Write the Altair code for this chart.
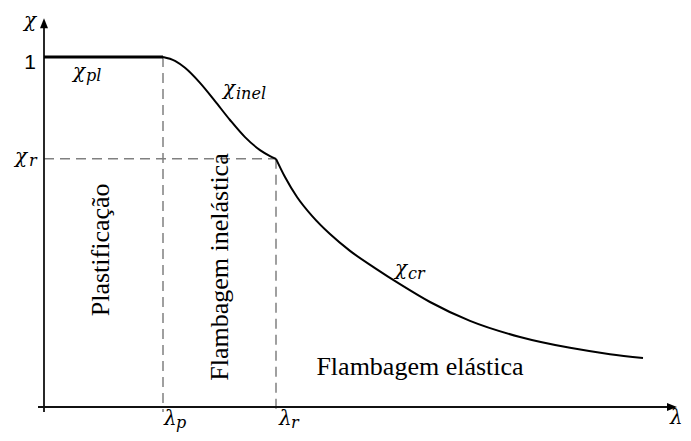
import altair as alt
import pandas as pd

# ---- curve data (lambda, chi) ----
lam_flat = [0.0, 1.19]
chi_flat = [1.0, 1.0]

lam_inel = [1.19, 1.31, 1.41, 1.56, 1.71, 1.86, 2.01, 2.16, 2.26, 2.32]
chi_inel = [1.0, 0.989, 0.969, 0.926, 0.874, 0.820, 0.771, 0.734, 0.717, 0.709]

lam_cr = [2.32, 2.41, 2.53, 2.68, 2.86, 3.06, 3.31, 3.56, 3.86, 4.26, 4.76, 5.26, 5.66, 5.99]
chi_cr = [0.709, 0.657, 0.600, 0.546, 0.494, 0.446, 0.397, 0.351, 0.300, 0.246, 0.200, 0.169, 0.151, 0.140]

lam_p = 1.19
lam_r = 2.32
chi_r = 0.709

# ---- labels ----
sym_text = ["χ", "χ", "χ", "χ", "χ", "λ", "λ", "λ"]
sym_lam = [-0.20, 0.29, 1.79, -0.29, 3.51, 1.20, 2.35, 6.26]
sym_chi = [1.0857, 0.94, 0.891, 0.697, 0.377, -0.0514, -0.0514, -0.0486]

sub_text = ["pl", "inel", "r", "cr", "p", "r"]
sub_lam = [0.42, 1.92, -0.15, 3.64, 1.32, 2.47]
sub_chi = [0.931, 0.88, 0.689, 0.366, -0.06, -0.06]

one_text = ["1"]
one_lam = [-0.08]
one_chi = [0.966]

region_text = ["Plastificação", "Flambagem inelástica", "Flambagem elástica"]
region_lam = [0.57, 1.76, 3.76]
region_chi = [0.449, 0.40, 0.114]
region_angle = [270, 270, 0]

# axis extents
x_axis_lam = [-0.06, 6.26]
y_axis_chi = [-0.0143, 1.09]
arrow_x_tip = 6.33
arrow_y_tip = 1.111

# ---- layout / scales ----
W, H = 675, 425
PX_PER_LAM = 100.0
PX_PER_CHI = 350.0
ORIGIN_X = 36.0   # plot-area pixel of lambda = 0
ORIGIN_Y = 399.0  # plot-area pixel of chi = 0 (from top)

xs = alt.Scale(domain=[-ORIGIN_X / PX_PER_LAM, (W - ORIGIN_X) / PX_PER_LAM], nice=False, zero=False)
ys = alt.Scale(domain=[(ORIGIN_Y - H) / PX_PER_CHI, ORIGIN_Y / PX_PER_CHI], nice=False, zero=False)


def X(f="lam"):
    return alt.X(f"{f}:Q", scale=xs, axis=None)


def Y(f="chi"):
    return alt.Y(f"{f}:Q", scale=ys, axis=None)


flat_df = pd.DataFrame({"lam": lam_flat, "chi": chi_flat})
inel_df = pd.DataFrame({"lam": lam_inel, "chi": chi_inel})
cr_df = pd.DataFrame({"lam": lam_cr, "chi": chi_cr})

dash_df = pd.DataFrame({
    "lam": [lam_p, lam_r, 0.0],
    "chi": [1.0, chi_r, chi_r],
    "lam2": [lam_p, lam_r, lam_r],
    "chi2": [y_axis_chi[0], y_axis_chi[0], chi_r],
})

axes_df = pd.DataFrame({
    "lam": [x_axis_lam[0], 0.0],
    "chi": [0.0, y_axis_chi[0]],
    "lam2": [x_axis_lam[1], 0.0],
    "chi2": [0.0, y_axis_chi[1]],
})

arrow_up_df = pd.DataFrame({"lam": [0.0], "chi": [arrow_y_tip]})
arrow_right_df = pd.DataFrame({"lam": [arrow_x_tip], "chi": [0.0]})

sym_df = pd.DataFrame({"t": sym_text, "lam": sym_lam, "chi": sym_chi})
sub_df = pd.DataFrame({"t": sub_text, "lam": sub_lam, "chi": sub_chi})
one_df = pd.DataFrame({"t": one_text, "lam": one_lam, "chi": one_chi})
region_df = pd.DataFrame({"t": region_text, "lam": region_lam, "chi": region_chi, "a": region_angle})

dashes = alt.Chart(dash_df).mark_rule(color="#808080", strokeWidth=1.5, strokeDash=[10, 6]).encode(
    x=X(), y=Y(), x2="lam2:Q", y2="chi2:Q")

axes = alt.Chart(axes_df).mark_rule(color="#111111", strokeWidth=1.8).encode(
    x=X(), y=Y(), x2="lam2:Q", y2="chi2:Q")

arrow_up = alt.Chart(arrow_up_df).mark_point(
    shape="M0,0L-0.4,1L0.4,1Z", size=400, filled=True, opacity=1, color="black", strokeWidth=0
).encode(x=X(), y=Y())

arrow_right = alt.Chart(arrow_right_df).mark_point(
    shape="M0,0L-1,-0.4L-1,0.4Z", size=400, filled=True, opacity=1, color="black", strokeWidth=0
).encode(x=X(), y=Y())

flat = alt.Chart(flat_df).mark_line(color="black", strokeWidth=3).encode(x=X(), y=Y())
inel = alt.Chart(inel_df).mark_line(color="black", strokeWidth=2, interpolate="monotone").encode(x=X(), y=Y())
cr = alt.Chart(cr_df).mark_line(color="black", strokeWidth=2, interpolate="monotone").encode(x=X(), y=Y())

syms = alt.Chart(sym_df).mark_text(
    font="DejaVu Serif", fontStyle="italic", fontSize=20, align="left", baseline="alphabetic", color="black"
).encode(x=X(), y=Y(), text="t:N")

subs = alt.Chart(sub_df).mark_text(
    font="DejaVu Serif", fontStyle="italic", fontSize=16, align="left", baseline="alphabetic", color="black"
).encode(x=X(), y=Y(), text="t:N")

one = alt.Chart(one_df).mark_text(
    font="Liberation Sans", fontSize=21, align="right", baseline="alphabetic", color="black"
).encode(x=X(), y=Y(), text="t:N")

regions = alt.Chart(region_df).mark_text(
    font="Liberation Serif", fontSize=26, align="center", baseline="middle", color="black"
).encode(x=X(), y=Y(), text="t:N", angle=alt.Angle("a:Q", scale=None))

chart = alt.layer(
    dashes, axes, arrow_up, arrow_right, flat, inel, cr, syms, subs, one, regions
).properties(
    width=W, height=H, padding=0, background="white",
    autosize=alt.AutoSizeParams(type="none"),
).configure_view(stroke=None)

chart.save("out.html", embed_options={"renderer": "svg", "actions": False})
